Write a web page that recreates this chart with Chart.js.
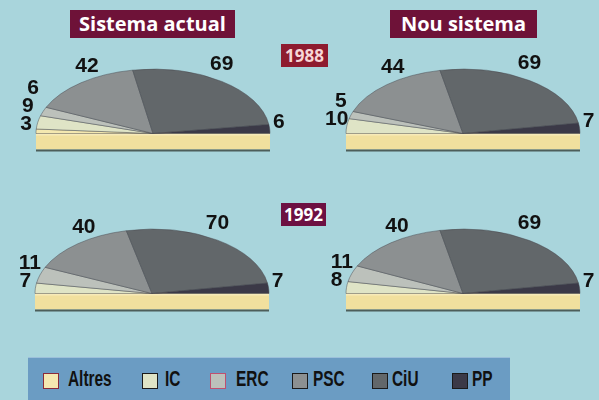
<!DOCTYPE html>
<html>
<head>
<meta charset="utf-8">
<script src="https://cdn.jsdelivr.net/npm/chart.js@4"></script>
<style>
  body { margin: 0; width: 599px; height: 400px; background: #a9d5dc; position: relative; overflow: hidden; font-family: "Open Sans", "DejaVu Sans", sans-serif; }
  canvas { position: absolute; }
  .tag { position: absolute; background: #6e1238; color: #fff; font-weight: bold; text-align: center; white-space: nowrap; }
  .title { font-size: 20px; line-height: 28px; height: 28px; top: 10px; }
  .year { font-size: 17px; line-height: 23px; height: 23px; left: 281px; }
  #legend { position: absolute; left: 28px; top: 357px; width: 482px; height: 42px; background: #6b9cc3; border-top: 1px solid #9cc0da; }
  .sw { position: absolute; top: 15px; width: 14px; height: 14px; border: 1.5px solid #1a1a1a; }
  .lt { position: absolute; top: 8px; font: bold 22px "Liberation Sans", Arial, sans-serif; line-height: 26px; color: #111; transform: scaleX(0.7); transform-origin: 0 50%; white-space: nowrap; }
</style>
</head>
<body>
<div class="tag title" style="left:70px;width:165px;">Sistema actual</div>
<div class="tag title" style="left:390px;width:147px;">Nou sistema</div>
<div class="tag year" style="top:44px;width:47px;background:#8e1b2f;color:#f7d6d6;">1988</div>
<div class="tag year" style="top:203px;width:45px;background:#6d1042;">1992</div>

<canvas id="c1988a" width="290" height="170" style="left:8px;top:0px;"></canvas>
<canvas id="c1988n" width="290" height="170" style="left:318px;top:0px;"></canvas>
<canvas id="c1992a" width="290" height="170" style="left:7px;top:160px;"></canvas>
<canvas id="c1992n" width="290" height="170" style="left:318px;top:160px;"></canvas>

<div id="legend"></div>

<script>
// Parliament of Catalonia, 135 seats, current vs new electoral system
const parties = ['Altres', 'IC', 'ERC', 'PSC', 'CiU', 'PP'];
const partyColors = ['#f4e8b0', '#dfe4c6', '#bcc1bb', '#8c9091', '#62676a', '#3b3947'];
const seats1988Actual = [3, 9, 6, 42, 69, 6];
const seats1988Nou = [0, 10, 5, 44, 69, 7];
const seats1992Actual = [0, 7, 11, 40, 70, 7];
const seats1992Nou = [0, 8, 11, 40, 69, 7];

const SQUASH = 0.55;

// draws the pie flattened onto a cream base, plus the seat numbers
const flatPie = {
    id: 'flatPie',
    beforeDatasetsDraw: function(chart) {
        const arc = chart.getDatasetMeta(0).data[0];
        const ctx = chart.ctx;
        const r = arc.outerRadius;
        ctx.save();
        ctx.fillStyle = '#f1e09e';
        ctx.fillRect(arc.x - r, arc.y - 2, r * 2, 18);
        ctx.fillStyle = '#f7eab8';
        ctx.fillRect(arc.x - r, arc.y - 2, r * 2, 4);
        ctx.fillStyle = '#4d5e5a';
        ctx.fillRect(arc.x - r, arc.y + 16, r * 2, 2);
        ctx.restore();
        ctx.save();
        ctx.translate(arc.x, arc.y);
        ctx.scale(1, SQUASH);
        ctx.translate(-arc.x, -arc.y);
    },
    afterDatasetsDraw: function(chart) {
        const ctx = chart.ctx;
        ctx.restore();
        const meta = chart.getDatasetMeta(0);
        const values = chart.data.datasets[0].data;
        const labels = [];
        meta.data.forEach(function(el, i) {
            if (!values[i]) return;
            const mid = (el.startAngle + el.endAngle) / 2;
            const c = Math.cos(mid), s = Math.sin(mid);
            const px = el.x + el.outerRadius * c;
            const py = el.y + el.outerRadius * SQUASH * s;
            let lx, ly;
            if (-s > 0.5) {
                lx = px + (c < 0 ? 6 : 0); ly = py - 17;
            } else {
                lx = px + (c < 0 ? -10 : 9); ly = py - 7;
            }
            labels.push({ text: String(values[i]), x: lx, y: ly, left: c < 0 && -s <= 0.5 });
        });
        // keep the small left-hand labels from overlapping
        let prevY = null;
        labels.filter(function(l) { return l.left; }).forEach(function(l) {
            if (prevY !== null && prevY - l.y < 18) l.y = prevY - 18;
            prevY = l.y;
        });
        ctx.save();
        ctx.font = 'bold 21px "Liberation Sans", Arial, sans-serif';
        ctx.fillStyle = '#111';
        ctx.textAlign = 'center';
        ctx.textBaseline = 'middle';
        labels.forEach(function(l) { ctx.fillText(l.text, l.x, l.y); });
        ctx.restore();
    }
};

function makePie(id, seats) {
    return new Chart(document.getElementById(id), {
        type: 'doughnut',
        data: {
            labels: parties,
            datasets: [{
                data: seats,
                backgroundColor: partyColors,
                borderColor: 'rgba(70,70,75,0.6)',
                borderWidth: 1,
                clip: false
            }]
        },
        options: {
            responsive: false,
            animation: false,
            rotation: -90,
            circumference: 180,
            cutout: 0,
            radius: 117,
            layout: { padding: { bottom: 20 } },
            plugins: {
                legend: { display: false },
                tooltip: { enabled: false }
            }
        },
        plugins: [flatPie]
    });
}

makePie('c1988a', seats1988Actual);
makePie('c1988n', seats1988Nou);
makePie('c1992a', seats1992Actual);
makePie('c1992n', seats1992Nou);

// shared legend
const legendX = [15, 114, 182, 264, 344, 424];
const legendTextX = [40, 137, 208, 285, 364, 444];
const legendBorders = ['#8a2a3a', '#1a1a1a', '#c05070', '#1a1a1a', '#1a1a1a', '#1a1a1a'];
const legend = document.getElementById('legend');
parties.forEach(function(p, i) {
    const sw = document.createElement('div');
    sw.className = 'sw';
    sw.style.left = legendX[i] + 'px';
    sw.style.background = partyColors[i];
    sw.style.borderColor = legendBorders[i];
    legend.appendChild(sw);
    const t = document.createElement('div');
    t.className = 'lt';
    t.style.left = legendTextX[i] + 'px';
    t.textContent = p;
    legend.appendChild(t);
});
</script>
</body>
</html>
